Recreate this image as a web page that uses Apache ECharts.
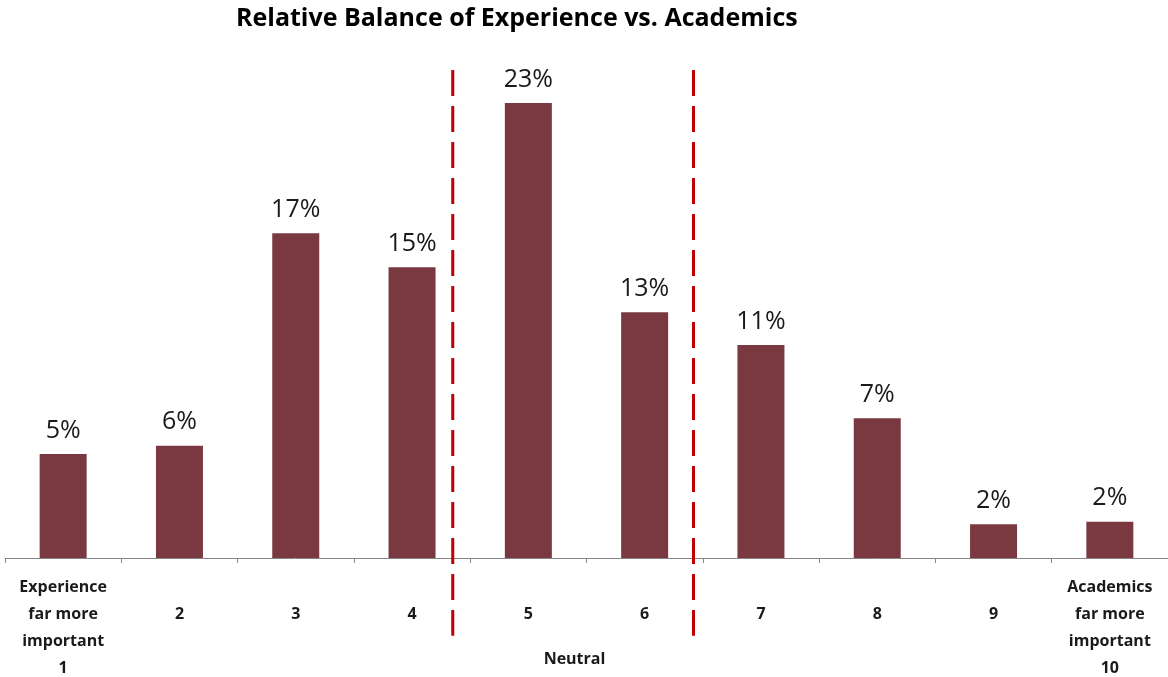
<!DOCTYPE html>
<html>
<head>
<meta charset="utf-8">
<script src="https://cdn.jsdelivr.net/npm/echarts@6/dist/echarts.min.js"></script>
<style>html,body{margin:0;padding:0;background:#fff}#c{width:1168px;height:677px}</style>
</head>
<body>
<div id="c"></div>
<script>
const titleText = "Relative Balance of Experience vs. Academics";
const categories = ["Experience\nfar more\nimportant\n1", "2", "3", "4", "5", "6", "7", "8", "9", "Academics\nfar more\nimportant\n10"];
const values = [5.35, 5.78, 16.7, 14.95, 23.4, 12.64, 10.96, 7.19, 1.73, 1.87];
const dividerPositions = [3.85, 5.92];   // in category units from the left edge
const dividerSpan = [25.1, -4.0];        // value range spanned by divider lines
const neutralLabel = "Neutral";

const chart = echarts.init(document.getElementById('c'), null, {renderer: 'canvas'});
const font = '"Open Sans", Lato, sans-serif';

const dividerSeries = dividerPositions.map(x => ({
  type: 'line',
  xAxisIndex: 1,
  yAxisIndex: 0,
  clip: false,
  symbol: 'none',
  silent: true,
  z: 5,
  lineStyle: {color: '#C00000', width: 3, type: [26, 10]},
  data: dividerSpan.map(y => [x, y])
}));

chart.setOption({
  animation: false,
  backgroundColor: '#ffffff',
  title: {
    text: titleText,
    left: 231,
    top: 1,
    textStyle: {fontFamily: font, fontWeight: 'bold', fontSize: 25, color: '#000'}
  },
  grid: {left: 5, right: 0, top: 72, bottom: 119, containLabel: false, outerBoundsMode: 'none'},
  xAxis: [{
    type: 'category',
    data: categories,
    axisLine: {lineStyle: {color: '#868686', width: 1}},
    axisTick: {show: true, length: 5, lineStyle: {color: '#868686'}},
    axisLabel: {
      interval: 0,
      margin: 16,
      fontFamily: font,
      fontWeight: 'bold',
      fontSize: 16,
      lineHeight: 27,
      color: '#1a1a1a',
      formatter: v => v.indexOf('\n') >= 0 ? v : '\n' + v
    },
    name: neutralLabel,
    nameLocation: 'middle',
    nameGap: 93,
    nameMoveOverlap: false,
    nameTextStyle: {fontFamily: font, fontWeight: 'bold', fontSize: 16, color: '#1a1a1a', padding: [0, 24, 0, 0]}
  }, {
    type: 'value',
    min: 0,
    max: 10,
    show: false
  }],
  yAxis: [{
    type: 'value',
    min: 0,
    max: 25,
    show: false,
    splitLine: {show: false}
  }],
  series: [{
    type: 'bar',
    data: values,
    barWidth: 47,
    itemStyle: {color: '#7A3940'},
    label: {
      show: true,
      position: 'top',
      distance: 11,
      fontFamily: font,
      fontSize: 25,
      color: '#1a1a1a',
      formatter: p => Math.round(p.value) + '%'
    }
  }].concat(dividerSeries)
});
</script>
</body>
</html>
